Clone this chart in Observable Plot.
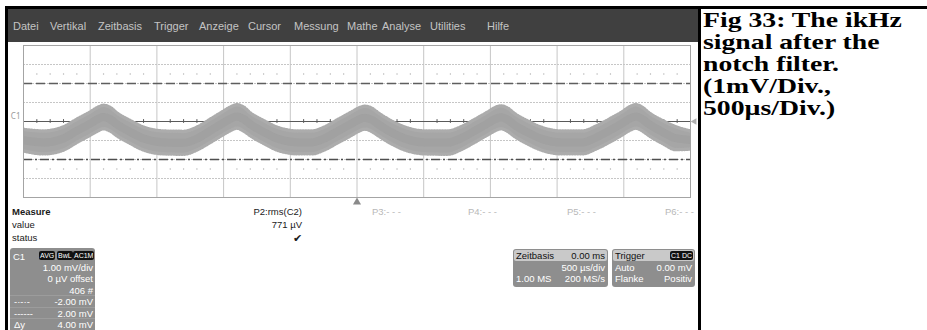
<!DOCTYPE html>
<html><head><meta charset="utf-8">
<script src="https://cdn.jsdelivr.net/npm/d3@7"></script>
<script src="https://cdn.jsdelivr.net/npm/@observablehq/plot@0.6"></script>
<style>
body{margin:0;background:#fff;}
#page{position:relative;width:927px;height:330px;overflow:hidden;background:#fff;font-family:"Liberation Sans",Arial,sans-serif;}
.abs{position:absolute;white-space:nowrap;line-height:12px;}
#chart{position:absolute;left:0;top:0;}
.bar{position:absolute;background:#000;}
.menu{color:#c4c4c4;font-size:11px;}
.m{font-size:9.5px;color:#1a1a1a;}
.box{position:absolute;background:#8e8e8e;border-radius:3px;}
.bt{position:absolute;white-space:nowrap;color:#fff;font-size:9.5px;line-height:11px;}
.badge{position:absolute;background:#111;color:#fff;font-size:7px;line-height:9px;border-radius:2px;padding:0 1px;}
.cap{position:absolute;left:703px;white-space:nowrap;font-family:"Liberation Serif","Times New Roman",serif;font-weight:bold;font-size:21px;line-height:21px;color:#000;transform:scaleX(1.32);transform-origin:0 0;}
</style></head>
<body><div id="page"></div>
<script>
// ---- data ----
const tMs = [-2.5,-2.35,-2.2,-2.1,-2.0,-1.95,-1.9,-1.85,-1.8,-1.7,-1.6,-1.45,-1.3,-1.2,-1.1,-1.0,-0.95,-0.9,-0.85,-0.8,-0.7,-0.6,-0.44,-0.34,-0.24,-0.14,-0.04,0.01,0.06,0.11,0.16,0.26,0.36,0.51,0.68,0.78,0.88,0.98,1.03,1.08,1.13,1.18,1.28,1.38,1.53,1.69,1.79,1.89,1.99,2.04,2.09,2.14,2.19,2.29,2.39,2.5];
const upperMv = [-0.42,-0.5,-0.28,0.12,0.5,0.72,0.85,0.74,0.45,0.05,-0.3,-0.5,-0.52,-0.3,0.12,0.55,0.76,0.88,0.76,0.45,0.05,-0.3,-0.5,-0.5,-0.28,0.12,0.5,0.7,0.8,0.7,0.45,0.02,-0.3,-0.5,-0.5,-0.28,0.1,0.5,0.72,0.82,0.7,0.42,0.02,-0.3,-0.5,-0.5,-0.25,0.12,0.52,0.76,0.88,0.74,0.45,0.05,-0.28,-0.5];
const lowerMv = [-1.55,-1.7,-1.5,-1.1,-0.72,-0.52,-0.38,-0.5,-0.75,-1.15,-1.5,-1.7,-1.72,-1.5,-1.1,-0.68,-0.48,-0.35,-0.5,-0.75,-1.15,-1.5,-1.7,-1.7,-1.48,-1.1,-0.72,-0.52,-0.4,-0.52,-0.75,-1.18,-1.5,-1.7,-1.72,-1.48,-1.1,-0.7,-0.5,-0.38,-0.52,-0.78,-1.18,-1.5,-1.7,-1.7,-1.45,-1.1,-0.7,-0.48,-0.35,-0.5,-0.75,-1.15,-1.48,-1.45];
const cursorUpperMv = 2;
const cursorLowerMv = -2;
const menuItems = ["Datei","Vertikal","Zeitbasis","Trigger","Anzeige","Cursor","Messung","Mathe","Analyse","Utilities","Hilfe"];
const menuX = [13,50,98,154,199,248,294,347,382,430,487];
const measureLabels = ["Measure","value","status"];
const measureP2 = ["P2:rms(C2)","771 µV","✔"];
const emptyParams = ["P3:- - -","P4:- - -","P5:- - -","P6:- - -"];
const emptyParamsX = [372,468,567,665];
const c1Badges = ["AVG","BwL","AC1M"];
const c1Rows = ["1.00 mV/div","0 µV offset","406 #","-2.00 mV","2.00 mV","4.00 mV"];
const c1RowKeys = ["","","","-·-·-","------","Δy"];
const captionLines = ["Fig 33: The ikHz","signal after the","notch filter.","(1mV/Div.,","500µs/Div.)"];

const signal = tMs.map((t,i)=>({t, hi: upperMv[i], lo: lowerMv[i]}));
const vGrid = [-2,-1.5,-1,-0.5,0,0.5,1,1.5,2];
const hGrid = [-3,-2,-1,1,2,3];
const minor = d3.range(-25,26).map(i=>i/10).filter(v=>Math.abs(v*2-Math.round(v*2))>1e-6);

const page = document.getElementById("page");

const chart = Plot.plot({
  width: 927, height: 330,
  marginLeft: 23, marginRight: 237, marginTop: 45, marginBottom: 133,
  x: {domain: [-2.5, 2.5], axis: null},
  y: {domain: [-4, 4], axis: null},
  style: {background: "transparent", overflow: "visible"},
  marks: [
    Plot.ruleX(vGrid, {stroke: "#c6c6c6"}),
    Plot.ruleY(hGrid, {stroke: "#c6c6c6", strokeDasharray: "2,1"}),
    Plot.dot(minor.flatMap(x=>[{x, y: 2.5},{x, y: -2.5}]), {x: "x", y: "y", r: 0.7, fill: "#b4b4b4", stroke: null}),
    Plot.ruleY([0], {stroke: "#5a5a5a"}),
    Plot.ruleX(minor, {y1: -0.1, y2: 0.1, stroke: "#5a5a5a"}),
    Plot.areaY(signal, {x: "t", y1: "lo", y2: "hi", fill: "#a6a6a6", curve: "monotone-x", clip: true}),
    Plot.lineY(signal, {x: "t", y: "hi", stroke: "#acacac", strokeWidth: 3.5, strokeDasharray: "1,1.7", curve: "monotone-x", clip: true}),
    Plot.lineY(signal, {x: "t", y: "lo", stroke: "#acacac", strokeWidth: 3.5, strokeDasharray: "1,1.7", curve: "monotone-x", clip: true}),
    Plot.lineY(signal, {x: "t", y: d=>(d.hi+d.lo)/2, stroke: "#9c9c9c", strokeWidth: 8, strokeOpacity: 0.5, curve: "monotone-x", clip: true}),
    Plot.ruleY([cursorUpperMv], {stroke: "#5e5e5e", strokeWidth: 1.6, strokeDasharray: "9,4"}),
    Plot.ruleY([cursorLowerMv], {stroke: "#4e4e4e", strokeWidth: 1.6, strokeDasharray: "9,3,2,3"}),
    Plot.frame({stroke: "#a4a4a4"}),
    Plot.dot([0], {x: 0, y: -4.25, symbol: "triangle", r: 3, fill: "#8a8a8a", stroke: null}),
    Plot.dot([0], {x: 2.5, y: 0, dx: 4, symbol: "triangle", rotate: -90, r: 2.5, fill: "#b0b0b0", stroke: null}),
    Plot.text(["C1"], {x: -2.5, y: 0, dx: -3, dy: -5, textAnchor: "end", fontSize: 8, fill: "#9a9a9a"})
  ]
});
chart.id = "chart";
page.appendChild(chart);

function el(cls, css, text){
  const d = document.createElement("div");
  d.className = cls;
  Object.assign(d.style, css);
  if (text !== undefined) d.textContent = text;
  page.appendChild(d);
  return d;
}
function child(parent, cls, css, text){
  const d = document.createElement("div");
  d.className = cls; Object.assign(d.style, css);
  if (text !== undefined) d.textContent = text;
  parent.appendChild(d); return d;
}

// menu bar
el("abs", {left:"7px", top:"9px", width:"691px", height:"33px", background:"#404040"});
menuItems.forEach((m,i)=> el("abs menu", {left: menuX[i]+"px", top:"20px"}, m));

// frame lines
el("bar", {left:"5px", top:"6px", width:"922px", height:"3px"});
el("bar", {left:"5px", top:"6px", width:"2.5px", height:"324px"});
el("bar", {left:"698px", top:"6px", width:"2.5px", height:"324px"});

// measure table
measureLabels.forEach((t,i)=> el("abs m", {left:"12px", top:(206+i*13)+"px", fontWeight: i===0?"bold":"normal"}, t));
measureP2.forEach((t,i)=> el("abs m", {right:(927-302)+"px", top:(206+i*13)+"px", fontSize: i===2?"11px":"9.5px"}, t));
emptyParams.forEach((t,i)=> el("abs m", {left: emptyParamsX[i]+"px", top:"206px", color:"#b8b8b8"}, t));

// C1 box
const c1 = el("box", {left:"10px", top:"248px", width:"85px", height:"84px"});
child(c1, "bt", {left:"3px", top:"3px"}, "C1");
const bx = [29,47,63];
c1Badges.forEach((b,i)=> child(c1, "badge", {left: bx[i]+"px", top:"3px"}, b));
c1Rows.forEach((r,i)=> {
  child(c1, "bt", {right:"2px", top:(14+i*11.4)+"px"}, r);
  if (c1RowKeys[i]) child(c1, "bt", {left:"4px", top:(14+i*11.4)+"px"}, c1RowKeys[i]);
  if (i>=3) child(c1, "abs", {left:"0", width:"85px", top:(13+i*11.4)+"px", height:"1px", background:"#9c9c9c"});
});

// Zeitbasis box
const zb = el("box", {left:"513px", top:"249px", width:"95px", height:"38px"});
child(zb, "abs", {left:"1px", top:"1px", width:"93px", height:"11px", background:"#c9c9c9", borderRadius:"2px"});
child(zb, "bt", {left:"3px", top:"1px", color:"#111"}, "Zeitbasis");
child(zb, "bt", {right:"3px", top:"1px", color:"#111"}, "0.00 ms");
child(zb, "bt", {right:"3px", top:"13px"}, "500 µs/div");
child(zb, "bt", {left:"3px", top:"24px"}, "1.00 MS");
child(zb, "bt", {right:"3px", top:"24px"}, "200 MS/s");

// Trigger box
const tr = el("box", {left:"612px", top:"249px", width:"83px", height:"38px"});
child(tr, "abs", {left:"1px", top:"1px", width:"81px", height:"11px", background:"#c9c9c9", borderRadius:"2px"});
child(tr, "bt", {left:"3px", top:"1px", color:"#111"}, "Trigger");
child(tr, "badge", {right:"2px", top:"2px"}, "C1 DC");
child(tr, "bt", {left:"3px", top:"13px"}, "Auto");
child(tr, "bt", {right:"3px", top:"13px"}, "0.00 mV");
child(tr, "bt", {left:"3px", top:"24px"}, "Flanke");
child(tr, "bt", {right:"3px", top:"24px"}, "Positiv");

// caption (baselines ~27.5 + 22*i)
captionLines.forEach((t,i)=> el("cap", {top:(10.3+i*22)+"px"}, t));
</script>
</body></html>
